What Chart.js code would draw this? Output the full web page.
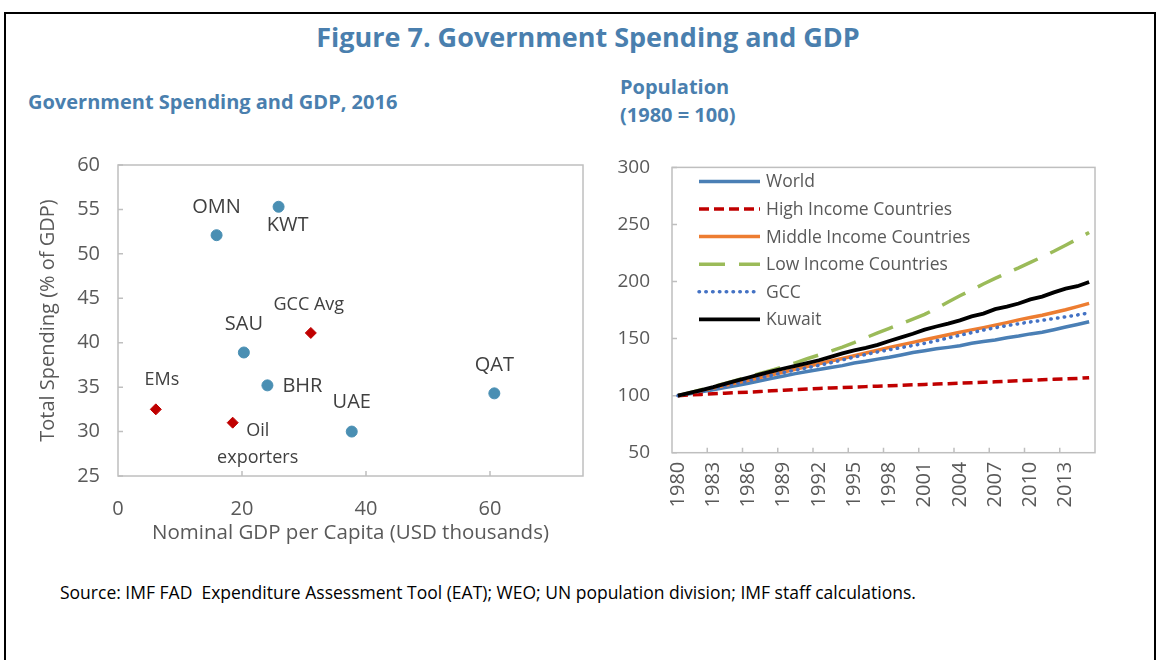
<!DOCTYPE html>
<html>
<head>
<meta charset="utf-8">
<script src="https://cdn.jsdelivr.net/npm/chart.js@4.4.0/dist/chart.umd.min.js"></script>
<style>
  body { margin: 0; background: #fff; font-family: "Open Sans", sans-serif; }
  #frame { position: absolute; left: 4px; top: 12px; width: 1148px; height: 700px; border: 2px solid #000; }
  .ttl { position: absolute; color: #4a7fae; font-weight: bold; white-space: nowrap; }
  #main { left: 0; width: 1176px; top: 18px; text-align: center; font-size: 27px; }
  #sub1 { left: 28px; top: 88px; font-size: 20px; }
  #sub2 { left: 620px; top: 73px; font-size: 20px; line-height: 28px; }
  #src { position: absolute; left: 60px; top: 580px; font-size: 17.5px; color: #000; white-space: nowrap; }
  .box { position: absolute; }
  #leftBox { left: 0; top: 135px; width: 600px; height: 415px; }
  #rightBox { left: 600px; top: 134px; width: 540px; height: 396px; }
</style>
</head>
<body>
<div id="frame"></div>
<div class="ttl" id="main">Figure 7. Government Spending and GDP</div>
<div class="ttl" id="sub1">Government Spending and GDP, 2016</div>
<div class="ttl" id="sub2">Population<br>(1980 = 100)</div>
<div class="box" id="leftBox"><canvas id="scatterChart"></canvas></div>
<div class="box" id="rightBox"><canvas id="popChart"></canvas></div>
<div id="src">Source: IMF FAD&nbsp; Expenditure Assessment Tool (EAT); WEO; UN population division; IMF staff calculations.</div>

<script>
// left panel data (GDP per capita in USD thousands, spending in % of GDP)
let countryNames = ['OMN', 'KWT', 'SAU', 'BHR', 'UAE', 'QAT']
let countryGdp = [15.9, 25.9, 20.3, 24.1, 37.7, 60.7]
let countrySpend = [52.1, 55.3, 38.9, 35.2, 30.0, 34.3]

let groupNames = ['GCC Avg', 'EMs', 'Oil exporters']
let groupGdp = [31.1, 6.1, 18.5]
let groupSpend = [41.1, 32.5, 31.0]

let gdpTicks = [0, 20, 40, 60]

// right panel data (1980 = 100)
let years = []
for (let y = 1980; y <= 2015; y++) years.push(String(y))

let world = [100, 101.7, 103.4, 105.1, 107.0, 108.9, 110.9, 113.0, 115.1, 117.2,
  119.3, 121.1, 122.9, 124.6, 126.3, 128.6, 130.1, 132.0, 133.6, 135.6,
  137.8, 139.3, 141.0, 142.3, 143.7, 145.9, 147.4, 148.8, 150.8, 152.3,
  154.1, 155.6, 157.8, 160.2, 162.4, 164.8]
let highIncome = [100, 100.6, 101.1, 101.6, 102.1, 102.6, 103.1, 103.6, 104.2, 104.8,
  105.3, 105.8, 106.3, 106.7, 107.1, 107.5, 107.9, 108.3, 108.7, 109.1,
  109.5, 109.8, 110.1, 110.5, 110.9, 111.3, 111.7, 112.1, 112.6, 113.1,
  113.5, 113.9, 114.3, 114.7, 115.1, 115.7]
let middleIncome = [100, 102.2, 104.4, 106.6, 108.9, 111.2, 113.5, 115.9, 118.3, 120.7,
  123.1, 125.5, 127.9, 130.3, 132.6, 134.9, 137.4, 139.8, 142.3, 144.5,
  146.7, 149.0, 151.2, 153.3, 155.6, 157.6, 159.6, 161.8, 164.0, 166.4,
  168.4, 170.5, 172.9, 175.3, 178.0, 180.8]
let lowIncome = [100, 102.6, 105.3, 108.0, 110.8, 113.6, 116.5, 119.4, 122.3, 125.3,
  128.7, 132.3, 135.6, 139.0, 142.5, 146.5, 150.8, 155.0, 159.0, 163.0,
  167.0, 171.2, 176.5, 182.0, 187.5, 192.5, 197.8, 202.8, 207.5, 212.0,
  216.8, 221.5, 226.5, 231.8, 237.3, 243.0]
let gcc = [100, 102.0, 104.1, 106.3, 108.5, 110.8, 113.1, 115.5, 117.9, 120.3,
  122.4, 124.4, 126.5, 128.8, 131.3, 133.8, 136.1, 138.3, 140.2, 142.1,
  143.9, 145.8, 148.1, 150.5, 152.9, 155.2, 157.4, 159.5, 161.3, 163.0,
  164.6, 166.0, 167.5, 169.0, 170.7, 172.5]
let kuwait = [100, 102.5, 104.9, 107.4, 110.3, 113.1, 115.9, 118.6, 121.2, 123.8,
  126.1, 128.5, 131.0, 133.9, 137.0, 139.6, 141.8, 144.5, 147.9, 151.0,
  154.2, 157.8, 160.6, 163.1, 166.0, 169.5, 171.9, 175.8, 178.0, 180.7,
  184.3, 186.8, 190.5, 193.8, 195.9, 199.6]

let popTicks = [50, 100, 150, 200, 250, 300]

// label placement for the scatter points (px offset from the marker)
let countryLabelOffset = [[0, -28], [9, 19], [0, -28], [35, 1], [0, -29], [0, -28]]
let groupLabelOffset = [[-2, -28], [6, -29], [25, 8]]

const textGray = '#595959'
const font = 'Open Sans'

// grey box round the plot area + short inward tick marks
const framePlugin = {
  id: 'frame',
  beforeDatasetsDraw(chart, args, opts) {
    const { ctx, chartArea: a, scales } = chart
    ctx.save()
    ctx.strokeStyle = '#bfbfbf'
    ctx.lineWidth = 1.5
    ctx.strokeRect(a.left, a.top, a.right - a.left, a.bottom - a.top)
    ctx.beginPath()
    scales.y.ticks.forEach((t) => {
      let py = scales.y.getPixelForValue(t.value)
      ctx.moveTo(a.left, py)
      ctx.lineTo(a.left + 5, py)
    })
    opts.xMarks(chart).forEach((px) => {
      ctx.moveTo(px, a.bottom)
      ctx.lineTo(px, a.bottom - 5)
    })
    ctx.stroke()
    ctx.restore()
  }
}

const pointLabels = {
  id: 'pointLabels',
  afterDatasetsDraw(chart) {
    const ctx = chart.ctx
    ctx.save()
    ctx.fillStyle = '#404040'
    ctx.textAlign = 'center'
    ctx.textBaseline = 'middle'
    chart.data.datasets.forEach((ds, di) => {
      let meta = chart.getDatasetMeta(di)
      meta.data.forEach((pt, i) => {
        let off = ds.labelOffset[i]
        ctx.font = ds.labelSize + 'px "' + font + '"'
        let lines = ds.names[i] === 'Oil exporters' ? ['Oil', 'exporters'] : [ds.names[i]]
        lines.forEach((ln, k) => {
          ctx.fillText(ln, pt.x + off[0], pt.y + off[1] + k * 27)
        })
      })
    })
    ctx.restore()
  }
}

const scatterChart = new Chart(document.getElementById('scatterChart'), {
  type: 'scatter',
  data: {
    datasets: [{
      label: 'Countries',
      names: countryNames,
      labelOffset: countryLabelOffset,
      labelSize: 20,
      data: countryGdp.map((g, i) => ({ x: g, y: countrySpend[i] })),
      pointStyle: 'circle',
      pointRadius: 5.5,
      backgroundColor: '#4a8fb3',
      borderColor: '#4a8fb3'
    }, {
      label: 'Groups',
      names: groupNames,
      labelOffset: groupLabelOffset,
      labelSize: 18,
      data: groupGdp.map((g, i) => ({ x: g, y: groupSpend[i] })),
      pointStyle: 'rectRot',
      pointRadius: 5.5,
      backgroundColor: '#c00000',
      borderColor: '#c00000'
    }]
  },
  options: {
    responsive: true,
    maintainAspectRatio: false,
    animation: false,
    layout: { padding: { left: 32, top: 3, right: 17, bottom: 1 } },
    plugins: {
      legend: { display: false },
      tooltip: { enabled: false },
      frame: { xMarks: (chart) => gdpTicks.slice(1).map(v => chart.scales.x.getPixelForValue(v)) }
    },
    scales: {
      x: {
        type: 'linear', min: 0, max: 75,
        afterBuildTicks: (scale) => { scale.ticks = gdpTicks.map(v => ({ value: v })) },
        afterFit: (scale) => { scale.height = 73 },
        grid: { display: false, drawTicks: false },
        border: { display: false },
        ticks: { color: textGray, font: { family: font, size: 20 }, padding: 21 },
        title: { display: true, text: 'Nominal GDP per Capita (USD thousands)', color: textGray, font: { family: font, size: 20.5 } }
      },
      y: {
        min: 25, max: 60,
        afterFit: (scale) => { scale.width = 86 },
        grid: { display: false, drawTicks: false },
        border: { display: false },
        ticks: { stepSize: 5, color: textGray, font: { family: font, size: 20 }, padding: 18 },
        title: { display: true, text: 'Total Spending (% of GDP)', color: textGray, font: { family: font, size: 20 } }
      }
    }
  },
  plugins: [framePlugin, pointLabels]
})

// legend drawn inside the plot area, top left
const innerLegend = {
  id: 'innerLegend',
  afterDraw(chart) {
    const { ctx, chartArea: a } = chart
    ctx.save()
    ctx.font = '17.5px "' + font + '"'
    ctx.textBaseline = 'middle'
    ctx.fillStyle = textGray
    chart.data.datasets.forEach((ds, i) => {
      let y = a.top + 14 + i * 27.6
      let x0 = a.left + 27
      ctx.save()
      ctx.strokeStyle = ds.borderColor
      ctx.lineWidth = ds.borderWidth
      ctx.lineCap = ds.borderCapStyle || 'butt'
      ctx.setLineDash(ds.borderDash || [])
      ctx.beginPath()
      ctx.moveTo(x0, y)
      ctx.lineTo(x0 + 61, y)
      ctx.stroke()
      ctx.restore()
      ctx.fillText(ds.label, x0 + 67, y + 1)
    })
    ctx.restore()
  }
}

const popChart = new Chart(document.getElementById('popChart'), {
  type: 'line',
  data: {
    labels: years,
    datasets: [
      { label: 'World', data: world, borderColor: '#4a7fb5', borderWidth: 3.5 },
      { label: 'High Income Countries', data: highIncome, borderColor: '#c00000', borderWidth: 3.5, borderDash: [10, 5] },
      { label: 'Middle Income Countries', data: middleIncome, borderColor: '#ed7d31', borderWidth: 3.5 },
      { label: 'Low Income Countries', data: lowIncome, borderColor: '#9bbb59', borderWidth: 3.5, borderDash: [26, 14] },
      { label: 'GCC', data: gcc, borderColor: '#4472c4', borderWidth: 3.5, borderDash: [0.5, 6.3], borderCapStyle: 'round' },
      { label: 'Kuwait', data: kuwait, borderColor: '#000000', borderWidth: 3.8 }
    ].map((ds, i, all) => Object.assign(ds, { pointRadius: 0, tension: 0, fill: false, order: all.length - i }))
  },
  options: {
    responsive: true,
    maintainAspectRatio: false,
    animation: false,
    layout: { padding: { left: 0, top: 17, right: 45, bottom: 0 } },
    plugins: {
      legend: { display: false },
      tooltip: { enabled: false },
      frame: {
        xMarks: (chart) => {
          let sx = chart.scales.x, out = []
          for (let i = 3; i < years.length; i += 3)
            out.push((sx.getPixelForValue(i - 1) + sx.getPixelForValue(i)) / 2)
          return out
        }
      }
    },
    scales: {
      x: {
        offset: true,
        afterFit: (scale) => { scale.height = 77.3 },
        grid: { display: false, drawTicks: false },
        border: { display: false },
        ticks: {
          autoSkip: false, maxRotation: 90, minRotation: 90, padding: 9,
          color: textGray, font: { family: font, size: 20 },
          callback: function (v, i) { return i % 3 === 0 ? years[i] : '' }
        }
      },
      y: {
        min: 50, max: 300,
        afterBuildTicks: (scale) => { scale.ticks = popTicks.map(v => ({ value: v })) },
        afterFit: (scale) => { scale.width = 72 },
        grid: { display: false, drawTicks: false },
        border: { display: false },
        ticks: { color: textGray, font: { family: font, size: 19 }, padding: 22 }
      }
    }
  },
  plugins: [framePlugin, innerLegend]
})
</script>
</body>
</html>
